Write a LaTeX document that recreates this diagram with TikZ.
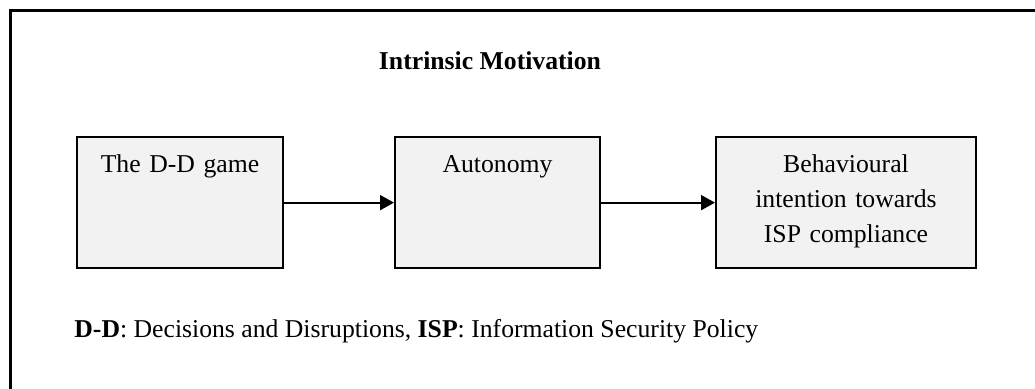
\documentclass[tikz,border=0pt]{standalone}
\usepackage{fontspec}
\setmainfont{Liberation Serif}
\usepackage{xcolor}
\usepackage{tikz}
\usetikzlibrary{shapes,arrows.meta,positioning,calc}
\definecolor{boxgray}{HTML}{F2F2F2}
\newcommand{\boxfont}{\fontsize{12.85}{17.5}\selectfont}
\tikzstyle{block} = [rectangle, draw, line width=1pt, fill=boxgray, inner sep=0pt, align=center, text height=17.85pt, text depth=47.5pt, anchor=north, font=\boxfont]
\tikzstyle{link} = [-{Triangle[length=7pt,width=7.5pt]}, line width=1pt]

\begin{document}
\begin{tikzpicture}[x=0.5pt,y=-0.5pt]
    \useasboundingbox (0,0) rectangle (1035,389);
    \draw[line width=1.25pt] (10.3,389) -- (10.3,10.3) -- (1035,10.3);
    \node[font=\boxfont\bfseries, anchor=base] (title) at (490,70) {Intrinsic Motivation};
    \node[block, text width=103pt] (game) at (180,136.3) {The D-D game};
    \node[block, text width=102.5pt] (auto) at (497.5,136.3) {Autonomy};
    \node[block, text width=130pt] (intent) at (846,136.3) {Behavioural\\intention towards\\ISP compliance};
    \draw[link] (game) -- (auto);
    \draw[link] (auto) -- (intent);
    \node[font=\boxfont, anchor=base west, inner sep=0pt] (note) at (74,338) {\textbf{D-D}: Decisions and Disruptions, \textbf{ISP}: Information Security Policy};
\end{tikzpicture}
\end{document}
